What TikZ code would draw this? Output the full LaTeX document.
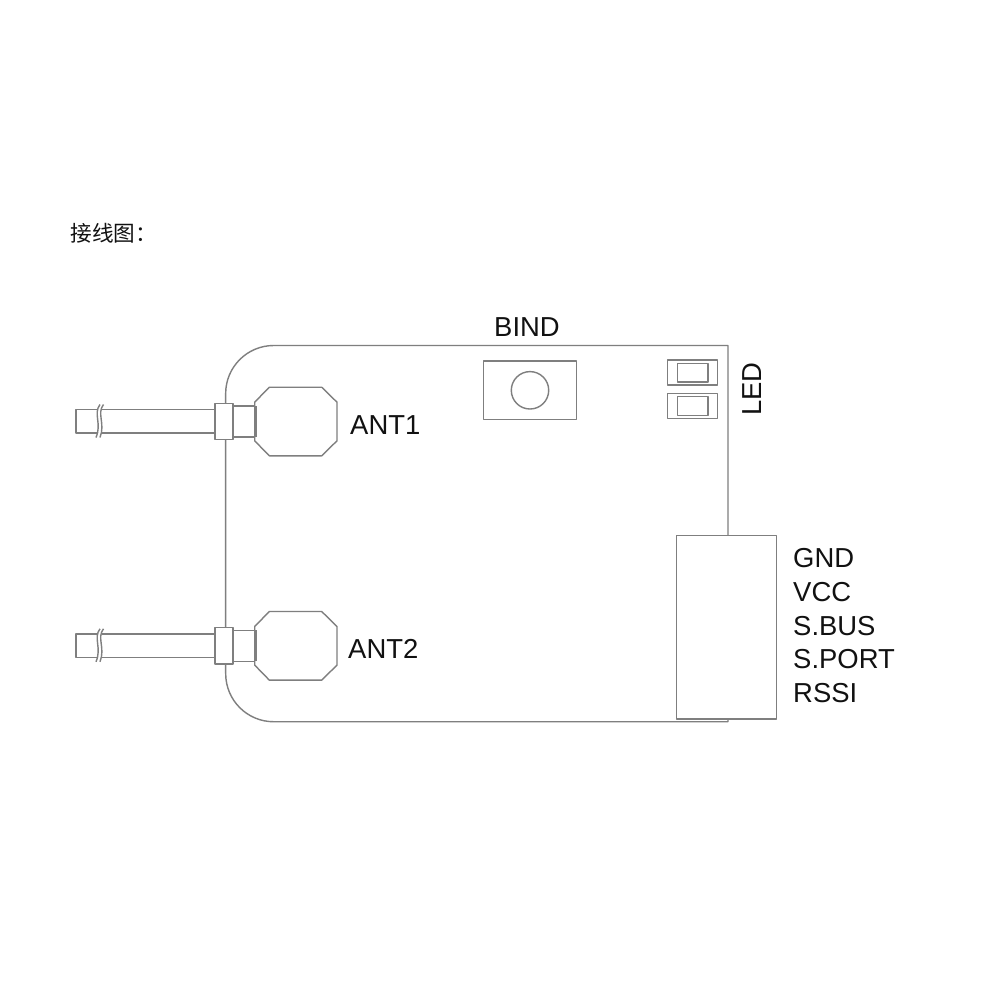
\documentclass[tikz,border=0pt]{standalone}
\usepackage{fontspec}
\setmainfont{Liberation Sans}
\newfontfamily\cjkfont{Noto Sans CJK SC}
\definecolor{edge}{HTML}{7F7F7F}
\definecolor{ink}{HTML}{111111}
\tikzset{
  outline/.style={draw=edge,line width=0.4pt,line join=round},
  lbl/.style={inner sep=0pt,text=ink,font=\fontsize{7.8pt}{9pt}\selectfont,anchor=base west},
  part/.style={outline,fill=white}
}
\newcommand{\antenna}[1]{%
  % #1 = octagon mid y
  \begin{scope}[shift={(0,#1)}]
    \draw[outline] (233,-15.5) -- (255,-15.5) (233,15.5) -- (255,15.5);
    \draw[part] (254.7,-19.3) -- (269.3,-34.3) -- (321.7,-34.3) -- (337,-19.3) -- (337,19.3) -- (321.7,34.3) -- (269.3,34.3) -- (254.7,19.3) -- cycle;
    \draw[outline] (256,-15.5) -- (256,15.5);
    \draw[outline] (215,-12) -- (102,-12) (215,11.5) -- (102,11.5);
    \draw[outline] (97,-12) -- (76,-12) -- (76,11.5) -- (97,11.5);
    \draw[outline] (100,-17) .. controls (93,-8) and (102,2) .. (96,16);
    \draw[outline] (103.5,-17) .. controls (96.5,-8) and (105.5,2) .. (100,16);
    \draw[part] (215,-18.3) rectangle (233,18);
  \end{scope}
}
\begin{document}
\begin{tikzpicture}[x=0.01cm,y=-0.01cm]
\useasboundingbox (0,0) rectangle (1000,1000);
\fill[white] (0,0) rectangle (1000,1000);
% board
\draw[outline] (728,535.5) -- (728,345.5) -- (273.7,345.5) arc[start angle=90,end angle=180,radius=0.48cm] -- (225.7,673.7) arc[start angle=180,end angle=270,radius=0.48cm] -- (728,721.7) -- (728,719);
% antennas
\antenna{421.5}
\antenna{645.8}
% bind button
\draw[outline] (483.3,361) rectangle (576.7,419.7);
\draw[outline] (530,390.3) circle[radius=0.187cm];
% LEDs
\draw[outline] (667.3,360) rectangle (717.3,385);
\draw[outline] (677.3,363.3) rectangle (708,382);
\draw[outline] (667.3,393.3) rectangle (717.3,418.7);
\draw[outline] (677.3,396.7) rectangle (708,415.3);
% header
\draw[part] (676.7,535.3) rectangle (776.7,719);
% labels
\node[inner sep=0pt,anchor=base west,text=ink,font=\cjkfont\fontsize{6.15pt}{7pt}\selectfont] (title) at (70,241) {接线图：};
\node[lbl,anchor=base] (bind) at (527,336) {BIND};
\node[lbl,rotate=90,anchor=base] (led) at (761,389) {LED};
\node[lbl] (ant1) at (349.5,434.5) {ANT1};
\node[lbl] (ant2) at (347.5,658.5) {ANT2};
\node[lbl] (gnd) at (792.5,567) {GND};
\node[lbl] (vcc) at (792.5,601) {VCC};
\node[lbl] (sbus) at (792.5,635) {S.BUS};
\node[lbl] (sport) at (792.5,668.5) {S.PORT};
\node[lbl] (rssi) at (792.5,702.5) {RSSI};
\end{tikzpicture}
\end{document}
